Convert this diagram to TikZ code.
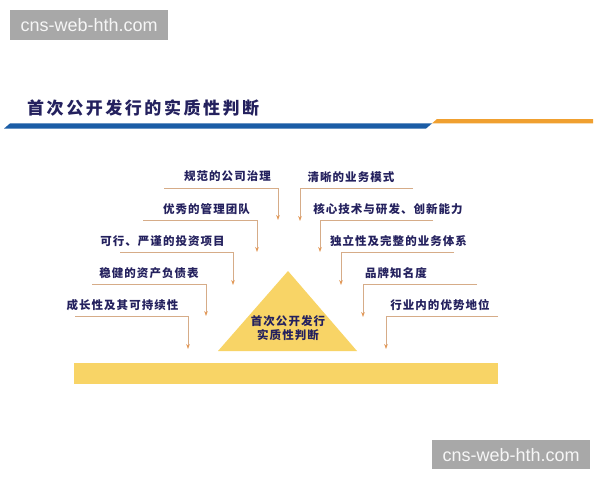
\documentclass[tikz,border=0pt]{standalone}
\usepackage{fontspec}
\setmainfont{Liberation Sans}
\newfontfamily\cjk[LetterSpace=9]{Noto Sans CJK SC}
\newfontfamily\cjktitle[LetterSpace=15]{Noto Sans CJK SC}
\usetikzlibrary{arrows.meta}
\definecolor{navy}{HTML}{24215E}
\definecolor{barblue}{HTML}{1B5DA6}
\definecolor{barorange}{HTML}{F0A030}
\definecolor{gold}{HTML}{F8D466}
\definecolor{tanline}{HTML}{D6AC88}
\definecolor{arrowc}{HTML}{E39A5A}
\definecolor{wmgray}{HTML}{A8A8A8}
\tikzset{
  item/.style={font={\cjk\bfseries\fontsize{11.5}{13}\selectfont}, text=navy, inner sep=0pt},
  conn/.style={draw=tanline, line width=0.7pt, -{Stealth[length=5pt,width=3.6pt,color=arrowc]}},
  wm/.style={fill=wmgray, text=white!93!gray, font={\fontsize{18}{20}\selectfont}, inner sep=0pt, anchor=north west}
}
\begin{document}
\begin{tikzpicture}[x=1pt,y=-1pt]
\useasboundingbox (0,0) rectangle (600,480);
\fill[white] (0,0) rectangle (600,480);
% watermarks
\node[wm, minimum width=158, minimum height=30] (wm1) at (10,10) {cns-web-hth.com};
\node[wm, minimum width=158, minimum height=29] (wm2) at (432,440) {cns-web-hth.com};
% title
\node[font={\cjktitle\bfseries\fontsize{17}{19}\selectfont}, text=navy, inner sep=0pt, anchor=west] (title) at (27,108) {首次公开发行的实质性判断};
% header rule
\fill[barblue] (4,128.6) -- (10,123.4) -- (432,123.4) -- (426,128.6) -- cycle;
\fill[barorange] (432,123.4) -- (437,119) -- (593,119) -- (593,123.4) -- cycle;
% triangle and bar
\fill[gold] (218,351) -- (288,271) -- (357,351) -- cycle;
\node[item, align=center] (apex) at (288,328) {首次公开发行\\[1pt]实质性判断};
\fill[gold] (74,363) rectangle (498,384);
% left items
\node[item] (L1) at (227.5,176) {规范的公司治理};
\node[item] (L2) at (206.5,209) {优秀的管理团队};
\node[item] (L3) at (162.5,241) {可行、严谨的投资项目};
\node[item] (L4) at (149,273) {稳健的资产负债表};
\node[item] (L5) at (122.5,305) {成长性及其可持续性};
\coordinate (l1s) at (164,188); \coordinate (l1e) at (278,220);
\coordinate (l2s) at (143,220); \coordinate (l2e) at (257,252);
\coordinate (l3s) at (120,252.5); \coordinate (l3e) at (233,285);
\coordinate (l4s) at (92,284); \coordinate (l4e) at (206,316);
\coordinate (l5s) at (75,316); \coordinate (l5e) at (188,349);
\foreach \i in {1,...,5}{\draw[conn] (l\i s) -- (l\i e |- l\i s) -- (l\i e);}
% right items
\node[item] (R1) at (351,177) {清晰的业务模式};
\node[item] (R2) at (388,209) {核心技术与研发、创新能力};
\node[item] (R3) at (398.5,241) {独立性及完整的业务体系};
\node[item] (R4) at (396,273) {品牌知名度};
\node[item] (R5) at (440,305) {行业内的优势地位};
\coordinate (r1s) at (413,188); \coordinate (r1e) at (300,221);
\coordinate (r2s) at (433,220); \coordinate (r2e) at (320,252);
\coordinate (r3s) at (454,252); \coordinate (r3e) at (341,285);
\coordinate (r4s) at (477,284); \coordinate (r4e) at (363,317);
\coordinate (r5s) at (498,316); \coordinate (r5e) at (386,349);
\foreach \i in {1,...,5}{\draw[conn] (r\i s) -- (r\i e |- r\i s) -- (r\i e);}
\end{tikzpicture}
\end{document}
